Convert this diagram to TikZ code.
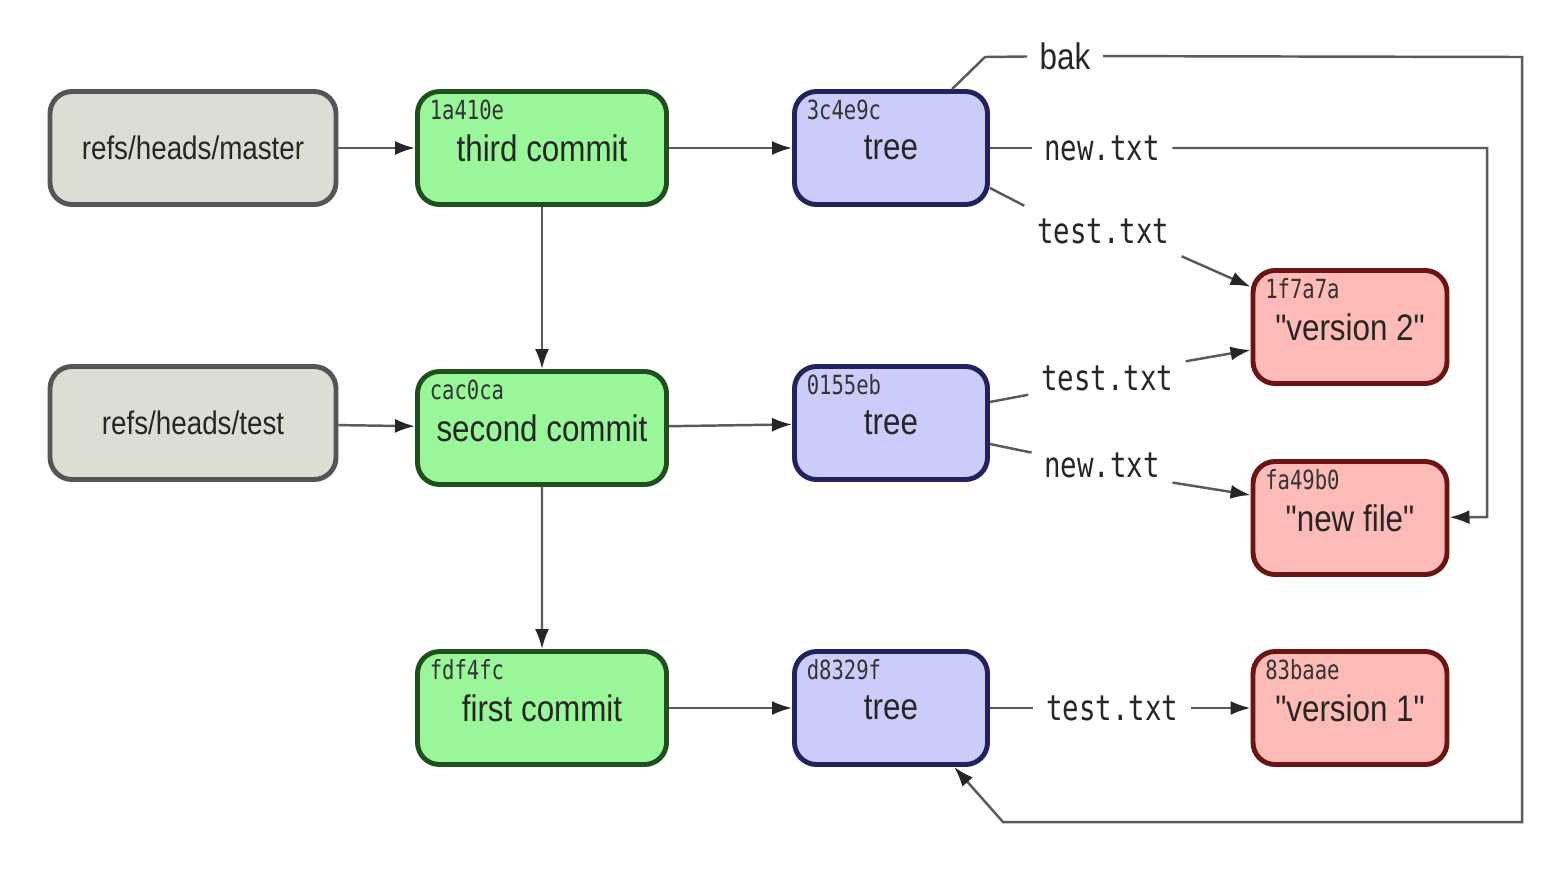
\documentclass[tikz,border=0pt]{standalone}
\usepackage{fontspec}
\setmainfont[FakeStretch=0.85,Ligatures=TeXOff]{Liberation Sans}
\setmonofont[FakeStretch=0.78]{DejaVu Sans Mono}
\usetikzlibrary{arrows.meta}
\usetikzlibrary{positioning}
\definecolor{refbg}{HTML}{DCDED3}
\definecolor{refline}{HTML}{555555}
\definecolor{commitbg}{HTML}{99F799}
\definecolor{commitline}{HTML}{1F4F1F}
\definecolor{treebg}{HTML}{CCCCFA}
\definecolor{treeline}{HTML}{22225E}
\definecolor{blobbg}{HTML}{FDBBB8}
\definecolor{blobline}{HTML}{6A1414}
\definecolor{linegray}{HTML}{5A5A5A}
\tikzset{
    obj/.style = {draw,rounded corners=2.2mm,line width=1.4pt,minimum height=1.13cm,text=black!85,font=\fontsize{10.5}{12}\selectfont},
    refbox/.style = {obj,fill=refbg,draw=refline,minimum width=2.86cm,font=\fontsize{9.3}{11}\selectfont},
    commit/.style = {obj,fill=commitbg,draw=commitline,minimum width=2.49cm},
    treebox/.style = {obj,fill=treebg,draw=treeline,minimum width=1.93cm},
    blob/.style = {obj,fill=blobbg,draw=blobline,minimum width=1.94cm},
    hash/.style = {anchor=north west,inner sep=0pt,xshift=0.14cm,yshift=-0.1cm,font=\ttfamily\fontsize{7.5}{8}\selectfont,text=black!80}
}
\tikzset{
    ptr/.style = {draw=linegray,line width=0.7pt,-{Latex[length=2mm,width=1.4mm,color=black!85]}},
    link/.style = {draw=linegray,line width=0.7pt},
    fname/.style = {inner sep=1.2mm,font=\ttfamily\fontsize{10}{12}\selectfont,text=black!85},
    bname/.style = {inner sep=1.2mm,font=\fontsize{10.5}{12}\selectfont,text=black!85}
}
\begin{document}
\begin{tikzpicture}
    \useasboundingbox (0,0) rectangle (15.6,-8.74);
    \newcommand*\hsep{3.49}
    % Refs, commits and trees
    \path (1.93,-1.48) node[refbox] (master) {refs/heads/master}
        to +(\hsep,0) node[commit] (c3) {third commit}
        to +(2*\hsep,0) node[treebox] (t3) {tree}
    ;
    \path (1.93,-4.23) node[refbox] (test) {refs/heads/test}
        to +(\hsep,-0.05) node[commit] (c2) {second commit}
        to +(2*\hsep,0) node[treebox] (t2) {tree}
    ;
    \path (5.42,-7.08) node[commit] (c1) {first commit}
        to +(\hsep,0) node[treebox] (t1) {tree}
    ;
    % Blobs
    \path (13.50,-3.27) node[blob] (bv2) {"version 2"}
        to +(0,-1.91) node[blob] (bnew) {"new file"}
        to +(0,-3.81) node[blob] (bv1) {"version 1"}
    ;
    % Object ids
    \foreach \obj/\id in {c3/1a410e,c2/cac0ca,c1/fdf4fc,t3/3c4e9c,t2/0155eb,t1/d8329f,bv2/1f7a7a,bnew/fa49b0,bv1/83baae}
        \node[hash] (\obj-id) at (\obj.north west) {\id};
    % File names
    \node[bname] (lbak) at (10.65,-0.56) {bak};
    \node[fname] (lnew3) at (11.02,-1.48) {new.txt};
    \node[fname] (ltest3) at (11.03,-2.31) {test.txt};
    \node[fname] (ltest2) at (11.07,-3.78) {test.txt};
    \node[fname] (lnew2) at (11.02,-4.65) {new.txt};
    \node[fname] (ltest1) at (11.12,-7.08) {test.txt};
    % Turning points
    \coordinate (bakturn) at (9.85,-0.57);
    \coordinate (bakNE) at (15.22,-0.57);
    \coordinate (bakSE) at (15.22,-8.22);
    \coordinate (bakSW) at (10.03,-8.22);
    \coordinate (newturn) at (14.87,-5.17);
    % Pointers
    \foreach \src/\dest in {master/c3,c3/t3,c3/c2,test/c2,c2/t2,c2/c1,c1/t1,ltest1/bv1}
        \draw[ptr] (\src) to (\dest);
    \foreach \src/\dest in {t3/lnew3,t1/ltest1}
        \draw[link] (\src) to (\dest);
    \draw[link] (t3.-22) -- (ltest3.north west);
    \draw[ptr] (ltest3.south east) -- (bv2.158);
    \draw[link] (t2.12) -- (ltest2.192);
    \draw[ptr] (ltest2.12) -- (bv2.193);
    \draw[link] (t2.-12) -- (lnew2.170);
    \draw[ptr] (lnew2.-14) -- (bnew.167);
    \draw[ptr] (lnew3) -| (newturn) -- (bnew);
    \draw[link] (t3.44) -- (bakturn) -- (lbak);
    \draw[ptr] (lbak) -- (bakNE) -- (bakSE) -- (bakSW) -- (t1.-43);
\end{tikzpicture}
\end{document}
